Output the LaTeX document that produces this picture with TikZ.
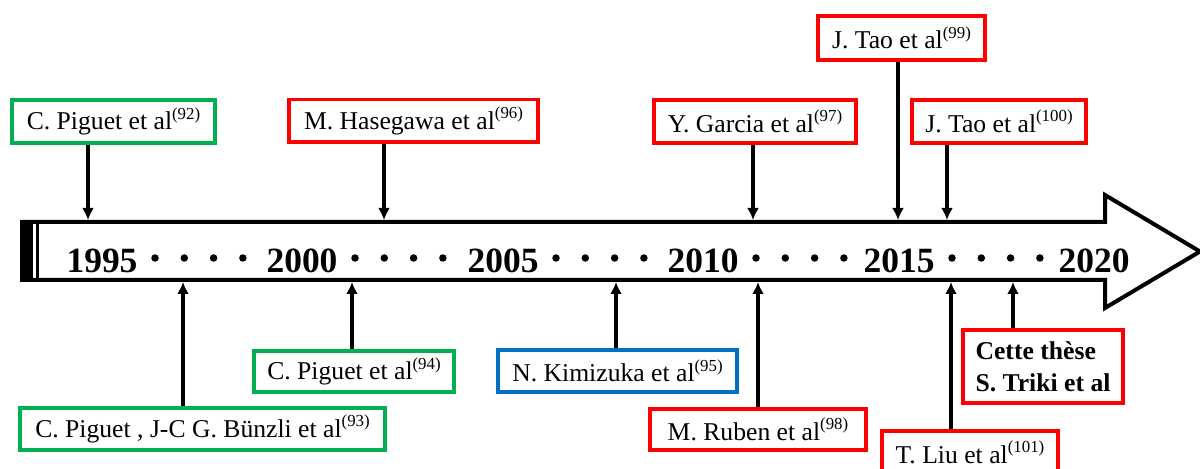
\documentclass[tikz,border=0pt]{standalone}
\usepackage{fontspec}
\setmainfont{Liberation Serif}
\usepackage{xcolor}
\usepackage{tikz}
\usetikzlibrary{arrows.meta, positioning, calc}

\definecolor{refgreen}{HTML}{00B050}
\definecolor{refred}{HTML}{FF0000}
\definecolor{refblue}{HTML}{0070C0}

\newcommand{\refsup}[1]{\raisebox{6pt}{\fontsize{9.6}{10}\selectfont(#1)}}

\begin{document}
\begin{tikzpicture}[x=0.02cm, y=-0.02cm, >={Latex[length=0.24cm,width=0.24cm]}, line width=0.08cm]
    % Styles
    \tikzstyle{paper} = [rectangle, draw, fill=white, inner sep=0pt, minimum height=0.86cm, text centered, font=\fontsize{14.6}{17}\selectfont]
    \tikzstyle{grnbox} = [paper, draw=refgreen]
    \tikzstyle{redbox} = [paper, draw=refred]
    \tikzstyle{blubox} = [paper, draw=refblue]
    \tikzstyle{year} = [inner sep=0pt, font=\fontsize{20.2}{24}\selectfont\bfseries]
    \tikzstyle{line} = [draw, ->, line width=0.08cm]

    \useasboundingbox (0,0) rectangle (1200,469);

    % Timeline
    \draw [line join=miter] (22,222) -- (1105,222) -- (1105,195) -- (1200,251.5) -- (1105,308) -- (1105,280) -- (22,280);
    \fill (20,220) rectangle (33,282);
    \draw [line width=0.06cm] (37,222) -- (37,280);

    \foreach \x/\yr in {102/1995, 302/2000, 503/2005, 703/2010, 899/2015, 1094/2020}
        \node [year, anchor=base] (y\yr) at (\x,273) {\yr};
    \foreach \x in {102, 302, 503, 703, 899}
        \foreach \k in {0,...,3}
            \fill ({\x+53+29.3*\k},258) circle (0.075cm);

    % Nodes (above)
    \node [grnbox, minimum width=4.06cm] (p92) at (113.5,121.5) {C. Piguet et al\refsup{92}};
    \node [redbox, minimum width=4.98cm] (p96) at (413.5,121) {M. Hasegawa et al\refsup{96}};
    \node [redbox, minimum width=4.04cm] (p97) at (755,121.5) {Y. Garcia et al\refsup{97}};
    \node [redbox, minimum width=3.34cm, minimum height=0.88cm] (p99) at (901.5,38) {J. Tao et al\refsup{99}};
    \node [redbox, minimum width=3.48cm] (p100) at (999,121.5) {J. Tao et al\refsup{100}};

    % Nodes (below)
    \node [grnbox, minimum width=7.30cm, minimum height=0.84cm] (p93) at (202.5,429) {C. Piguet , J-C G. Bünzli et al\refsup{93}};
    \node [grnbox, minimum width=4.00cm, minimum height=0.82cm] (p94) at (354,371.5) {C. Piguet et al\refsup{94}};
    \node [blubox, minimum width=4.78cm, minimum height=0.84cm] (p95) at (617.5,371) {N. Kimizuka et al\refsup{95}};
    \node [redbox, minimum width=4.32cm, minimum height=0.82cm] (p98) at (758,429.5) {M. Ruben et al\refsup{98}};
    \node [redbox, minimum width=3.52cm] (p101) at (970,452.5) {T. Liu et al\refsup{101}};
    \node [redbox, minimum width=3.20cm, minimum height=1.46cm, align=left, font=\fontsize{14.6}{18.2}\selectfont\bfseries] (these) at (1043,366.5) {Cette thèse\\S. Triki et al};

    % Points on the timeline
    \coordinate (t92) at (88,220);
    \coordinate (t96) at (384,220);
    \coordinate (t97) at (753,220);
    \coordinate (t99) at (898,220);
    \coordinate (t100) at (947,220);
    \coordinate (t93) at (183,282);
    \coordinate (t94) at (352,282);
    \coordinate (t95) at (616,282);
    \coordinate (t98) at (758,282);
    \coordinate (t101) at (951,282);
    \coordinate (tthese) at (1013,282);

    % Edges
    \draw [line] (p92.south -| t92) -- (t92);
    \draw [line] (p96.south -| t96) -- (t96);
    \draw [line] (p97.south -| t97) -- (t97);
    \draw [line] (p99.south -| t99) -- (t99);
    \draw [line] (p100.south -| t100) -- (t100);
    \draw [line] (p93.north -| t93) -- (t93);
    \draw [line] (p94.north -| t94) -- (t94);
    \draw [line] (p95.north -| t95) -- (t95);
    \draw [line] (p98.north -| t98) -- (t98);
    \draw [line] (p101.north -| t101) -- (t101);
    \draw [line] (these.north -| tthese) -- (tthese);
\end{tikzpicture}
\end{document}
